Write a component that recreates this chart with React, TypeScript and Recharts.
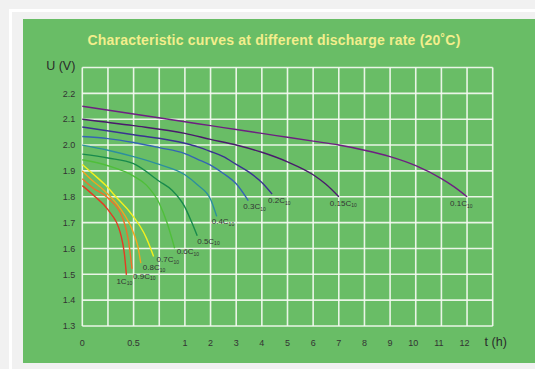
import React from "react";
import { LineChart, Line, XAxis, YAxis, CartesianGrid } from "recharts";

// Discharge curves: [time in hours, voltage per cell]
const rate01: [number, number][] = [[0, 2.15], [0.5, 2.12], [1, 2.09], [2, 2.075], [3, 2.06], [4, 2.045], [5, 2.03], [6, 2.015], [7, 2.0], [8, 1.98], [9, 1.955], [10, 1.92], [11, 1.87], [11.5, 1.838], [12, 1.8]];
const rate015: [number, number][] = [[0, 2.1], [0.5, 2.075], [1, 2.045], [2, 2.022], [3, 2.0], [4, 1.972], [5, 1.935], [6, 1.885], [6.5, 1.848], [7, 1.8]];
const rate02: [number, number][] = [[0, 2.07], [0.5, 2.04], [1, 2.007], [1.5, 1.993], [2, 1.975], [2.5, 1.955], [3, 1.925], [3.5, 1.895], [4, 1.855], [4.4, 1.81]];
const rate03: [number, number][] = [[0, 2.033], [0.25, 2.025], [0.5, 2.01], [0.75, 1.99], [1, 1.967], [1.5, 1.945], [2, 1.922], [2.5, 1.89], [3, 1.85], [3.47, 1.785]];
const rate04: [number, number][] = [[0, 2.0], [0.25, 1.98], [0.5, 1.955], [0.75, 1.925], [1, 1.885], [1.5, 1.845], [2, 1.79], [2.24, 1.724]];
const rate05: [number, number][] = [[0, 1.965], [0.25, 1.95], [0.5, 1.928], [0.75, 1.86], [0.875, 1.825], [1, 1.76], [1.25, 1.705], [1.48, 1.649]];
const rate06: [number, number][] = [[0, 1.943], [0.25, 1.92], [0.5, 1.88], [0.625, 1.845], [0.75, 1.775], [0.825, 1.7], [0.9, 1.601]];
const rate07: [number, number][] = [[0, 1.925], [0.1, 1.89], [0.225, 1.845], [0.35, 1.79], [0.465, 1.74], [0.625, 1.64], [0.695, 1.569]];
const rate08: [number, number][] = [[0, 1.9], [0.1, 1.862], [0.205, 1.827], [0.3675, 1.756], [0.5, 1.659], [0.54, 1.61], [0.57, 1.543]];
const rate09: [number, number][] = [[0, 1.87], [0.1, 1.835], [0.25, 1.795], [0.4, 1.711], [0.45, 1.63], [0.485, 1.521]];
const rate10: [number, number][] = [[0, 1.843], [0.125, 1.8], [0.25, 1.75], [0.38, 1.646], [0.41, 1.58], [0.43, 1.498]];

const seriesData = [rate01, rate015, rate02, rate03, rate04, rate05, rate06, rate07, rate08, rate09, rate10];
const seriesRate = ["0.1", "0.15", "0.2", "0.3", "0.4", "0.5", "0.6", "0.7", "0.8", "0.9", "1"];

// X tick labels (hours) ; axis is in grid units: first hour spans 4 units, then 1 unit per hour
const xTickHours = [0, 0.5, 1, 2, 3, 4, 5, 6, 7, 8, 9, 10, 11, 12];
const yTicks = [1.3, 1.4, 1.5, 1.6, 1.7, 1.8, 1.9, 2.0, 2.1, 2.2, 2.3];

// styles (kept separate from data)
const seriesColor = ["#6e1f82", "#4a1a6c", "#3a3391", "#3565b4", "#2c8f9e", "#188a4c", "#4fbf3a", "#f3f01e", "#f2a41e", "#f0702a", "#e53a22"];
const labelDx = [-17, -9, -4, -5, -5, 0, 2, 3, 2, 1, -10];
const labelDy = [9.5, 9, 9, 8.5, 8, 8, 6, 6, 7, 10, 9];

const toUnit = (h: number) => (h <= 1 ? h * 4 : h + 3);
const FONT = '"Liberation Sans", Arial, sans-serif';

const xLabelFor = (u: number) => {
  const h = u <= 4 ? u / 4 : u - 3;
  const found = xTickHours.find((t) => Math.abs(t - h) < 1e-6);
  return found === undefined ? "" : String(found);
};

const XTick = (props: any) => {
  const { x, y, payload } = props;
  const v = payload.value as number;
  if (v === 16) {
    return (
      <text x={x + 3} y={y + 19.5} textAnchor="middle" fontSize={12.5} fill="#2a2a2a" fontFamily={FONT}>
        t (h)
      </text>
    );
  }
  const lab = xLabelFor(v);
  if (!lab) return <g />;
  const shift = v >= 13 ? -2.5 : 0;
  return (
    <text x={x + shift} y={y + 19.5} textAnchor="middle" fontSize={9} fill="#333" fontFamily={FONT}>
      {lab}
    </text>
  );
};

const YTick = (props: any) => {
  const { x, y, payload } = props;
  const v = payload.value as number;
  if (v > 2.25) {
    return (
      <text x={x - 7} y={y + 2.5} textAnchor="end" fontSize={12.5} fill="#2a2a2a" fontFamily={FONT}>
        U (V)
      </text>
    );
  }
  return (
    <text x={x - 7} y={y + 3.2} textAnchor="end" fontSize={9} fill="#333" fontFamily={FONT}>
      {v.toFixed(1)}
    </text>
  );
};

const makeLabel = (i: number, lastIndex: number) => (props: any) => {
  if (props.index !== lastIndex) return <g />;
  const px = props.viewBox?.x ?? props.x;
  const py = props.viewBox?.y ?? props.y;
  return (
    <text x={px + labelDx[i]} y={py + labelDy[i]} fontSize={8} fill="#333" fontFamily={FONT}>
      {seriesRate[i]}C
      <tspan fontSize={5} dy={1.5}>10</tspan>
    </text>
  );
};

export default function App() {
  const lines = seriesData.map((d) => d.map(([h, v]) => ({ u: toUnit(h), v })));
  const xTicks = Array.from({ length: 17 }, (_, i) => i);
  return (
    <div style={{ position: "absolute", left: 0, top: 0, width: 535, height: 369, background: "#f1f1f1", overflow: "hidden" }}>
      <div style={{ position: "absolute", left: 9, top: 9, width: 600, height: 400, borderLeft: "3px solid #ffffff", borderTop: "3px solid #ffffff" }} />
      <div style={{ position: "absolute", left: 23, top: 19, width: 520, height: 344, background: "#69bd66" }} />
      <svg style={{ position: "absolute", left: 0, top: 0 }} width={535} height={60}>
        <text x={274} y={45} textAnchor="middle" fontSize={14} fontWeight="bold" fill="#f2ee8c" fontFamily={FONT} letterSpacing={0.2}>
          Characteristic curves at different discharge rate (20˚C)
        </text>
      </svg>
      <div style={{ position: "absolute", left: 0, top: 0 }}>
        <LineChart width={535} height={369} margin={{ top: 67.5, right: 42.3, bottom: 13, left: 0.3 }}>
          <CartesianGrid stroke="#f4faf1" strokeWidth={1.6} strokeOpacity={0.92} />
          <XAxis
            type="number"
            dataKey="u"
            domain={[0, 16]}
            ticks={xTicks}
            interval={0}
            height={30}
            axisLine={false}
            tickLine={false}
            tickSize={0}
            tickMargin={0}
            tick={XTick}
            allowDuplicatedCategory={false}
          />
          <YAxis
            type="number"
            domain={[1.3, 2.3]}
            ticks={yTicks}
            interval={0}
            width={82}
            axisLine={false}
            tickLine={false}
            tickSize={0}
            tickMargin={0}
            tick={YTick}
          />
          {lines.map((d, i) => (
            <Line
              key={seriesRate[i]}
              data={d}
              dataKey="v"
              type="monotone"
              stroke={seriesColor[i]}
              strokeWidth={1.4}
              dot={false}
              activeDot={false}
              isAnimationActive={false}
              label={makeLabel(i, d.length - 1)}
            />
          ))}
        </LineChart>
      </div>
    </div>
  );
}
